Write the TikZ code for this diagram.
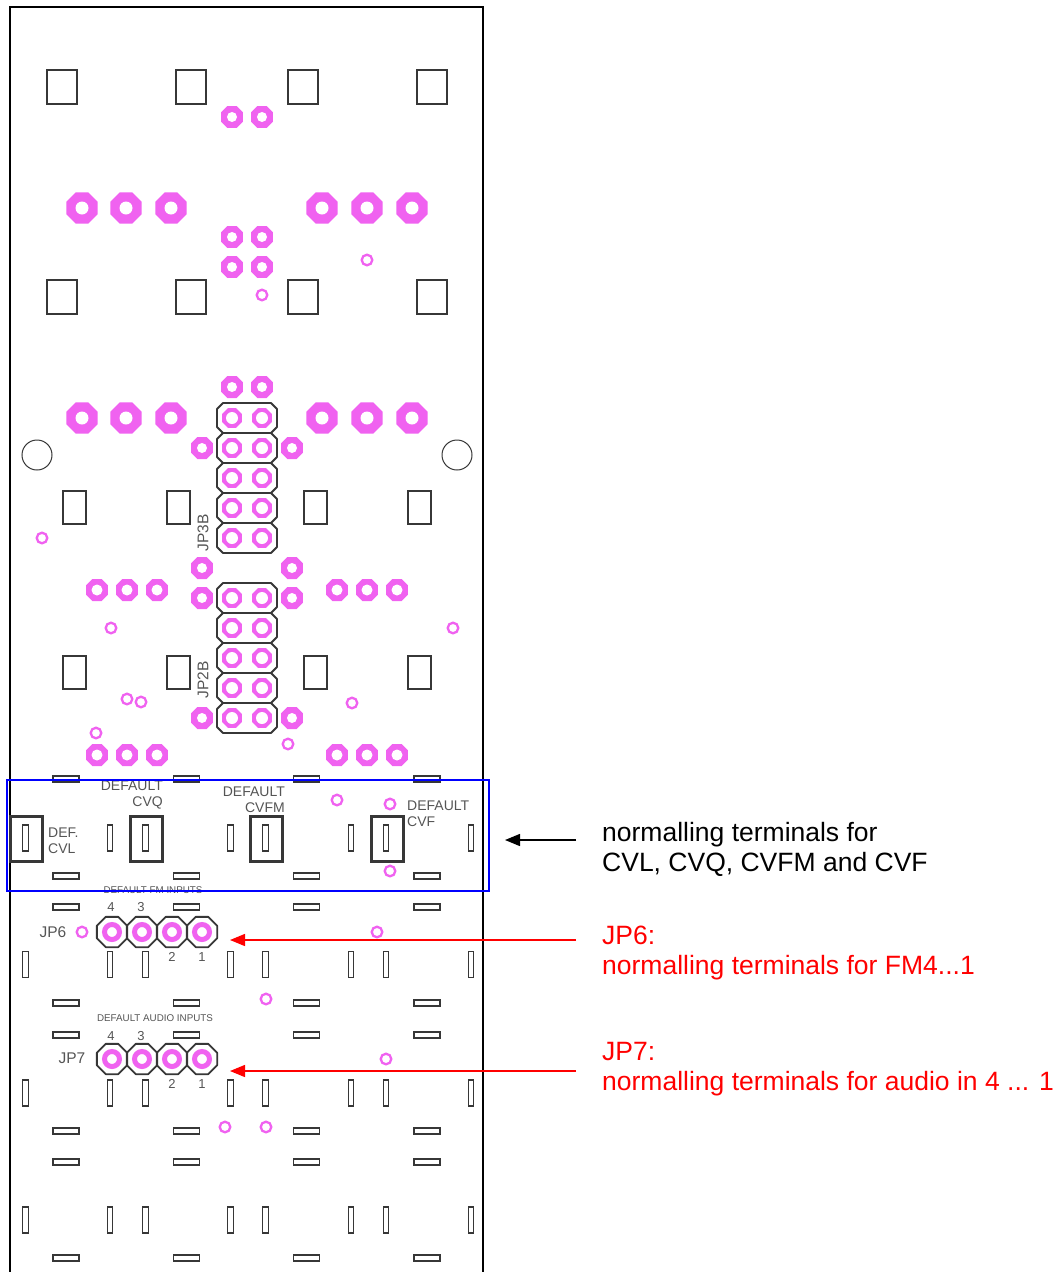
\documentclass[tikz,border=0pt]{standalone}
\usepackage{fontspec}
\setmainfont{Liberation Sans}
\usetikzlibrary{arrows.meta}

\definecolor{padpink}{RGB}{240,98,240}
\definecolor{silk}{RGB}{55,55,55}
\definecolor{labelgray}{RGB}{85,85,85}

% octagonal pad: x, y, outer radius, hole radius
\newcommand{\octpad}[4]{%
  \fill[padpink,shift={(#1,#2)}] (22.5:#3) -- (67.5:#3) -- (112.5:#3) -- (157.5:#3)
    -- (202.5:#3) -- (247.5:#3) -- (292.5:#3) -- (337.5:#3) -- cycle;
  \fill[white] (#1,#2) circle[radius=#4];}
% one row of a header outline: centre x, centre y
\newcommand{\hdrrow}[2]{%
  \draw[outline,shift={(#1,#2)}] (-24,-15) -- (24,-15) -- (30,-9) -- (30,9)
    -- (24,15) -- (-24,15) -- (-30,9) -- (-30,-9) -- cycle;}
% octagon outline round a single pin: centre x, centre y
\newcommand{\pinoct}[2]{%
  \draw[outline,shift={(#1,#2)}] (22.5:16.4) -- (67.5:16.4) -- (112.5:16.4) -- (157.5:16.4)
    -- (202.5:16.4) -- (247.5:16.4) -- (292.5:16.4) -- (337.5:16.4) -- cycle;}

\begin{document}
\begin{tikzpicture}
  [x=1pt,y=-1pt,
  %Styles
  board/.style={line width=1.2pt,black},
  hole/.style={draw=silk,line width=1.1pt},
  slot/.style={draw=silk,line width=1.2pt},
  jumper/.style={draw=silk,line width=3pt},
  outline/.style={draw=silk,line width=1.8pt,line join=round},
  via/.style={draw=padpink,line width=2.3pt},
  pinring/.style={draw=padpink,line width=5pt},
  boardlabel/.style={text=labelgray,inner sep=0pt,font=\fontsize{14}{16}\selectfont},
  tinylabel/.style={text=labelgray,inner sep=0pt,font=\fontsize{9.8}{11}\selectfont},
  pinlabel/.style={text=labelgray,inner sep=0pt,font=\fontsize{13}{14}\selectfont},
  jplabel/.style={text=labelgray,inner sep=0pt,font=\fontsize{15.5}{17}\selectfont},
  note/.style={inner sep=0pt,anchor=west,align=left,font=\fontsize{26.5}{30}\selectfont},
  pointer/.style={line width=1.4pt,-{Triangle[length=15pt,width=12pt]}}
  ]

  \useasboundingbox (0,0) rectangle (1059,1272);
  \fill[white] (0,0) rectangle (1059,1272);

  %The board
  \draw[board] (10,1272) -- (10,7) -- (483,7) -- (483,1272);

  \foreach \x in {47,176,288,417}{
    \draw[hole] (\x,70) rectangle ++(30,34);
    \draw[hole] (\x,280) rectangle ++(30,34);
  }
  \foreach \x in {63,167,304,408}{
    \draw[hole] (\x,491) rectangle ++(23,33);
    \draw[hole] (\x,656) rectangle ++(23,33);
  }
  \draw[hole,line width=1pt] (37,455) circle[radius=15];
  \draw[hole,line width=1pt] (457,455) circle[radius=15];

  %Pads
  \foreach \x in {82,126,171,322,367,412}{
    \octpad{\x}{208}{16.8}{6.5}
    \octpad{\x}{418}{16.8}{6.5}
  }
  \foreach \x/\y in {232/117,262/117,232/237,262/237,232/267,262/267,232/387,262/387,
      202/448,292/448,202/568,292/568,202/598,292/598,202/718,292/718}
    \octpad{\x}{\y}{11.9}{5};
  \foreach \x in {97,127,157,337,367,397}{
    \octpad{\x}{590}{11.9}{5.5}
    \octpad{\x}{755}{11.9}{5.5}
  }

  %Headers JP3B and JP2B
  \foreach \y in {418,448,478,508,538,598,628,658,688,718}{
    \hdrrow{247}{\y}
    \octpad{232}{\y}{10.6}{6}
    \octpad{262}{\y}{10.6}{6}
  }
  \node[jplabel,rotate=90] (jp3b) at (203,533) {JP3B};
  \node[jplabel,rotate=90] (jp2b) at (203,680) {JP2B};

  %Vias
  \foreach \x/\y in {367/260,262/295,42/538,111/628,453/628,127/699,141/702,352/703,
      96/733,288/744,337/800,390/804,390/871,82/932,377/932,266/999,386/1059,
      225/1127,266/1127}
    \draw[via] (\x,\y) circle[radius=5.3];

  %Slots
  \foreach \y in {779,876,907,1003,1035,1131,1162,1258}
    \foreach \x in {66,186.5,306.5,427}
      \draw[slot] (\x-13,\y-3) rectangle (\x+13,\y+3);
  \foreach \y in {838,964.5,1093,1220}
    \foreach \x in {25.5,110,145.5,230.5,265.5,351,386,471}
      \draw[slot] (\x-2.8,\y-13) rectangle (\x+2.8,\y+13);

  %Default jumpers
  \foreach \x in {26,146,266.5,387}
    \draw[jumper] (\x-16,816) rectangle (\x+16,861);
  \node[boardlabel,align=left,anchor=west] (cvl) at (48,841) {DEF.\\CVL};
  \node[boardlabel,align=right,anchor=east] (cvq) at (163,795) {DEFAULT\\CVQ};
  \node[boardlabel,align=right,anchor=east] (cvfm) at (285,800) {DEFAULT\\CVFM};
  \node[boardlabel,align=left,anchor=west] (cvf) at (407,814) {DEFAULT\\CVF};

  %JP6 and JP7
  \foreach \y in {932,1059}
    \foreach \x in {112,142,172,202}{
      \pinoct{\x}{\y}
      \draw[pinring] (\x,\y) circle[radius=7.5];
    }
  \node[tinylabel] (fmin) at (153,890) {DEFAULT FM INPUTS};
  \node[tinylabel] (audin) at (155,1018) {DEFAULT AUDIO INPUTS};
  \node[jplabel] (jp6) at (53,932) {JP6};
  \node[jplabel] (jp7) at (72,1058) {JP7};
  \node[pinlabel] (fm4) at (111,907) {4};
  \node[pinlabel] (fm3) at (141,907) {3};
  \node[pinlabel] (fm2) at (172,957) {2};
  \node[pinlabel] (fm1) at (202,957) {1};
  \node[pinlabel] (au4) at (111,1036) {4};
  \node[pinlabel] (au3) at (141,1036) {3};
  \node[pinlabel] (au2) at (172,1084) {2};
  \node[pinlabel] (au1) at (202,1084) {1};

  \draw[blue,line width=2pt] (7,780) rectangle (489,891);

  %Notes
  \node[note] (cvnote) at (602,849) {normalling terminals for\\CVL, CVQ, CVFM and CVF};
  \node[note,text=red] (jp6note) at (602,953) {JP6:\\normalling terminals for FM4...1};
  \node[note,text=red] (jp7note) at (602,1069) {JP7:\\normalling terminals for audio in 4 ... 1};

  \coordinate (cvtip) at (505,840);
  \coordinate (jp6tip) at (230,940);
  \coordinate (jp7tip) at (230,1071);
  \draw[pointer,shorten <=26pt] (cvnote.west |- cvtip) -- (cvtip);
  \draw[pointer,red,shorten <=26pt] (jp6note.west |- jp6tip) -- (jp6tip);
  \draw[pointer,red,shorten <=26pt] (jp7note.west |- jp7tip) -- (jp7tip);
\end{tikzpicture}
\end{document}
